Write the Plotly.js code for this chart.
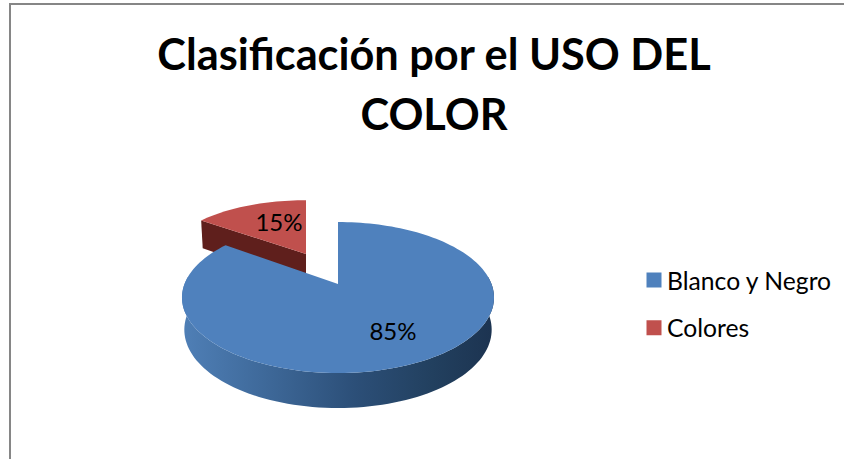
<!DOCTYPE html>
<html>
<head>
<meta charset="utf-8">
<script src="https://cdn.plot.ly/plotly-3.0.1.min.js"></script>
<style>html,body{margin:0;padding:0;background:#fff}#chart{width:844px;height:459px}</style>
</head>
<body>
<div id="chart"></div>
<script>
// Data
const categories = ["Blanco y Negro", "Colores"];
const values = [85, 15];
const faceColors = ["#4f81bd", "#c0504d"];
const titleText = "Clasificación por el USO DEL<br>COLOR";

// Projection of the tilted disc on the picture
const CX = 338, CY = 297.5, RY = 75.5, RX = 153.5, TILT = -0.179, SHIFT = -13.5;
const PULL_X = -32, PULL_V = -0.443; // how far the "Colores" slice is pulled out

function project(u, v, down, dx) {
  const w = 1 + TILT * v;
  const k = down ? 0.985 : 1;
  const depth = down ? 31.5 + 3.5 * v : 0;
  return [CX + (dx || 0) + k * RX * u / w, CY + (RY * v + SHIFT) / w + depth];
}
function rim(deg, dv, down, dx) {
  const a = deg * Math.PI / 180;
  return project(Math.sin(a), -Math.cos(a) + dv, down, dx);
}
function arc(from, to, dv, down, dx) {
  const pts = [], n = Math.max(2, Math.ceil(Math.abs(to - from) / 2));
  for (let i = 0; i <= n; i++) pts.push(rim(from + (to - from) * i / n, dv, down, dx));
  return pts;
}
function poly(pts, extra) {
  return Object.assign({
    type: "scatter", mode: "none", fill: "toself", showlegend: false, hoverinfo: "skip",
    x: pts.map(p => p[0]), y: pts.map(p => p[1])
  }, extra);
}

const total = values.reduce((a, b) => a + b, 0);
const sweepBlue = 360 * values[0] / total;

const redTip = rim(sweepBlue, PULL_V, false, PULL_X);
const redTipLow = rim(sweepBlue, PULL_V, true, PULL_X);
const redApex = project(0, PULL_V, false, PULL_X);
const redApexLow = project(0, PULL_V, true, PULL_X);

const traces = [
  poly([redTip, redApex, redApexLow, redTipLow], {fillcolor: "#5f1f1c"}),
  poly([redApex].concat(arc(sweepBlue, 360, PULL_V, false, PULL_X)), {fillcolor: faceColors[1]}),
  poly(arc(84, 276, 0, false).concat(arc(276, 84, 0, true)), {
    fillgradient: {type: "horizontal", start: 183, stop: 495,
      colorscale: [[0, "#4f7fb6"], [0.25, "#3f6a9b"], [0.55, "#2c4f78"], [0.8, "#22405f"], [1, "#1c3350"]]}
  }),
  poly([project(0, 0, false)].concat(arc(0, sweepBlue, 0, false)), {fillcolor: faceColors[0]}),
  {type: "scatter", mode: "text", showlegend: false, hoverinfo: "skip",
   x: [393, 279], y: [334, 225],
   text: values.map(v => Math.round(100 * v / total) + "%"),
   textposition: "middle center",
   textfont: {family: "Lato, sans-serif", size: 24, color: "#000"}}
];
categories.forEach((c, i) => traces.push({
  type: "scatter", mode: "markers", name: c, legendgroup: c,
  x: [null], y: [null], marker: {symbol: "square", size: 15, color: faceColors[i]}
}));

const layout = {
  width: 844, height: 459,
  margin: {l: 0, r: 0, t: 0, b: 0},
  paper_bgcolor: "#fff", plot_bgcolor: "#fff",
  xaxis: {range: [0, 844], visible: false, fixedrange: true},
  yaxis: {range: [459, 0], visible: false, fixedrange: true},
  title: {text: titleText, x: 434 / 844, xanchor: "center", y: 0.8475, yanchor: "top",
          font: {family: "Lato, sans-serif", size: 43.3, color: "#000", weight: 700}},
  legend: {x: 627 / 844, y: 1 - 257.5 / 459, xanchor: "left", yanchor: "top",
           tracegroupgap: 12.5, bgcolor: "rgba(0,0,0,0)",
           font: {family: "Lato, sans-serif", size: 24.7, color: "#000"}},
  shapes: [
    {type: "line", xref: "x", yref: "y", x0: 10, x1: 10, y0: 3, y1: 459, line: {color: "#868686", width: 2}},
    {type: "line", xref: "x", yref: "y", x0: 9, x1: 844, y0: 4, y1: 4, line: {color: "#868686", width: 2}}
  ]
};
Plotly.newPlot("chart", traces, layout, {displayModeBar: false}).then(gd => {
  // Title line spacing and legend swatch gap of the reference
  const lines = gd.querySelectorAll(".gtitle tspan.line");
  if (lines.length > 1) lines[1].setAttribute("dy", "1.39em");
  gd.querySelectorAll(".legendsymbols").forEach(g => g.setAttribute("transform", "translate(7,0)"));
});
</script>
</body>
</html>
